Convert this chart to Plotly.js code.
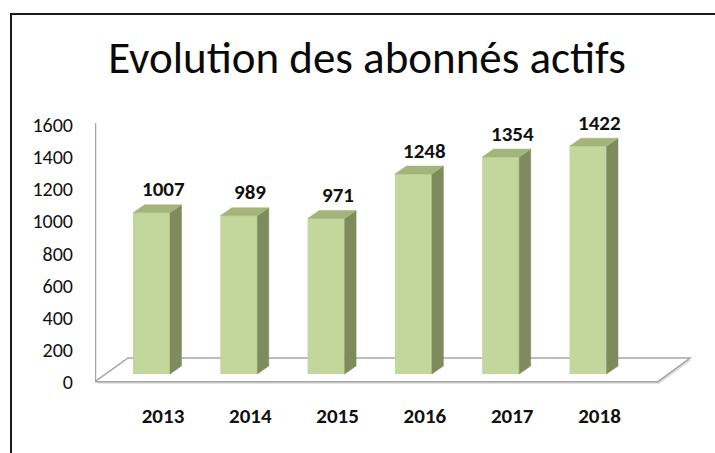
<!DOCTYPE html>
<html>
<head>
<meta charset="utf-8">
<script src="https://cdn.plot.ly/plotly-3.0.1.min.js"></script>
<style>html,body{margin:0;padding:0;background:#fff;}#chart{width:715px;height:453px;}</style>
</head>
<body>
<div id="chart"></div>
<script>
// ---- data ----
const years = ['2013', '2014', '2015', '2016', '2017', '2018'];
const subscribers = [1007, 989, 971, 1248, 1354, 1422];
const yTickVals = [0, 200, 400, 600, 800, 1000, 1200, 1400, 1600];
const chartTitle = 'Evolution des abonnés actifs';

// ---- geometry helpers (pixel -> data) ----
const W = 715, H = 453;
const PL = 95, PR = 700, PT = 100, PB = 390;
const PX0 = 163, PXSTEP = 87.3, PY0 = 382, PYK = 0.1606;
const X = px => (px - PX0) / PXSTEP;
const Y = py => (PY0 - py) / PYK;
const valPy = v => PY0 - PYK * v;
const FONT = 'Carlito, Lato, sans-serif';

const FRONT = '#c3d69b', SIDE = '#7e8c5d', TOP = '#a4b57b';
const DX = 11.5, DY = -8;

const idx = years.map((_, i) => i);
const frontBase = Y(374);
const traces = [];

// front faces as bars
traces.push({
  type: 'bar',
  x: idx.map(i => i + X(PX0 - 11.5)),
  y: subscribers.map(v => Y(valPy(v) - 7.5) - frontBase),
  base: subscribers.map(() => frontBase),
  width: subscribers.map(() => 37 / PXSTEP),
  marker: {color: FRONT, line: {width: 0}},
  hoverinfo: 'skip',
  showlegend: false
});

// side and top faces
subscribers.forEach((v, i) => {
  const cx = PX0 + PXSTEP * i;
  const fl = cx - 30, fr = cx + 7;
  const bot = 374, top = valPy(v) - 7.5;
  const side = [[fr, bot], [fr + DX, bot + DY], [fr + DX, top + DY], [fr, top], [fr, bot]];
  const topf = [[fl, top], [fl + DX, top + DY], [fr + DX, top + DY], [fr, top], [fl, top]];
  [[side, SIDE], [topf, TOP]].forEach(([poly, col]) => {
    traces.push({
      type: 'scatter', mode: 'lines',
      x: poly.map(p => X(p[0])), y: poly.map(p => Y(p[1])),
      fill: 'toself', fillcolor: col, line: {width: 0.5, color: col},
      hoverinfo: 'skip', showlegend: false
    });
  });
});

// floor and wall edge
const pathOf = pts => 'M ' + pts.map(p => X(p[0]) + ',' + Y(p[1])).join(' L ') + ' Z';
const floorPts = [[95, 381.7], [658, 381.7], [690, 358], [128, 358]];
const shadowPts = floorPts.map(p => [p[0] + 1.5, p[1] + 2]);
const px2paperX = px => (px - PL) / (PR - PL);
const py2paperY = py => (PB - py) / (PB - PT);

const shapes = [
  {type: 'path', xref: 'x', yref: 'y', path: pathOf(shadowPts), fillcolor: '#dcdcdc', line: {width: 0}, layer: 'below'},
  {type: 'path', xref: 'x', yref: 'y', path: pathOf(floorPts), fillcolor: '#ffffff', line: {width: 1.5, color: '#a6a6a6'}, layer: 'below'},
  {type: 'line', xref: 'x', yref: 'y', x0: X(95.5), x1: X(95.5), y0: Y(381.7), y1: Y(123), line: {width: 1.5, color: '#a6a6a6'}, layer: 'below'},
  // chart frame (left and top)
  {type: 'line', xref: 'paper', yref: 'paper', x0: px2paperX(11), x1: px2paperX(11), y0: py2paperY(14), y1: py2paperY(460), line: {width: 2, color: '#1a1a1a'}},
  {type: 'line', xref: 'paper', yref: 'paper', x0: px2paperX(10), x1: px2paperX(720), y0: py2paperY(14), y1: py2paperY(14), line: {width: 2, color: '#1a1a1a'}}
];

const annotations = subscribers.map((v, i) => ({
  x: i, y: v, xref: 'x', yref: 'y', text: String(v), showarrow: false,
  yanchor: 'middle', xanchor: 'center', yshift: 31,
  font: {family: FONT, size: 21, color: '#111111', weight: 700}
}));

const layout = {
  width: W, height: H,
  margin: {l: PL, r: W - PR, t: PT, b: H - PB, pad: 0},
  paper_bgcolor: '#ffffff', plot_bgcolor: 'rgba(0,0,0,0)',
  title: {
    text: chartTitle, xref: 'container', yref: 'container',
    x: 367 / W, xanchor: 'center', y: 1 - 57 / H, yanchor: 'middle',
    font: {family: FONT, size: 45, color: '#0a0a0a'}
  },
  xaxis: {
    range: [X(PL), X(PR)], tickmode: 'array', tickvals: idx, ticktext: years,
    showgrid: false, zeroline: false, showline: false, ticks: '',
    ticklabelstandoff: 11,
    tickfont: {family: FONT, size: 21, color: '#111111', weight: 700},
    fixedrange: true
  },
  yaxis: {
    range: [Y(PB), Y(PT)], tickmode: 'array', tickvals: yTickVals,
    showgrid: false, zeroline: false, showline: false, ticks: '',
    ticklabelstandoff: 21,
    tickfont: {family: FONT, size: 20, color: '#111111'},
    fixedrange: true
  },
  shapes: shapes,
  annotations: annotations,
  showlegend: false
};

Plotly.newPlot('chart', traces, layout, {displayModeBar: false, staticPlot: true});
</script>
</body>
</html>
